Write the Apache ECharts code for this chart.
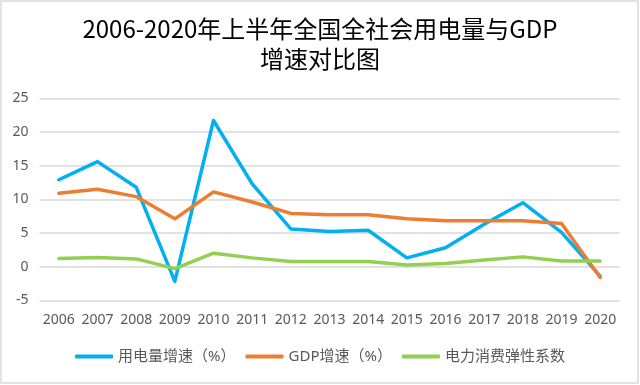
<!DOCTYPE html>
<html>
<head>
<meta charset="utf-8">
<script src="https://cdn.jsdelivr.net/npm/echarts@6/dist/echarts.min.js"></script>
<style>
html,body{margin:0;padding:0;background:#fff;}
#c{width:640px;height:385px;}
</style>
</head>
<body>
<div id="c"></div>
<script>
var years = ['2006','2007','2008','2009','2010','2011','2012','2013','2014','2015','2016','2017','2018','2019','2020'];
var elecGrowth = [12.9, 15.6, 11.8, -2.2, 21.7, 12.3, 5.6, 5.2, 5.4, 1.3, 2.8, 6.3, 9.5, 5.1, -1.4];
var gdpGrowth = [10.9, 11.5, 10.4, 7.1, 11.1, 9.6, 7.9, 7.7, 7.7, 7.1, 6.8, 6.8, 6.8, 6.4, -1.6];
var elasticity = [1.2, 1.35, 1.15, -0.3, 2.0, 1.3, 0.75, 0.75, 0.75, 0.25, 0.45, 1.0, 1.45, 0.85, 0.85];
var seriesNames = ['用电量增速（%）', 'GDP增速（%）', '电力消费弹性系数'];
var titleLines = ['2006-2020年上半年全国全社会用电量与GDP', '增速对比图'];

var font = '"Noto Sans", "Noto Sans CJK SC", sans-serif';
var chart = echarts.init(document.getElementById('c'));
function mk(name, data, color) {
  return {
    name: name, type: 'line', data: data, symbol: 'none',
    lineStyle: { color: color, width: 3.5, cap: 'round', join: 'round' },
    itemStyle: { color: color }
  };
}
var titleStyle = { fontFamily: '"Noto Sans CJK SC", sans-serif', fontSize: 24, fill: '#000', textAlign: 'center', textVerticalAlign: 'middle' };
chart.setOption({
  animation: false,
  backgroundColor: '#fff',
  graphic: [{
    type: 'rect', shape: { x: 1, y: 1, width: 637, height: 382 },
    style: { fill: 'none', stroke: '#d9d9d9', lineWidth: 1.5 }, silent: true
  }, {
    type: 'text', x: 320, y: 29, silent: true,
    style: Object.assign({ text: titleLines[0] }, titleStyle)
  }, {
    type: 'text', x: 320, y: 59, silent: true,
    style: Object.assign({ text: titleLines[1] }, titleStyle)
  }],
  legend: {
    data: seriesNames, left: 'center', top: 349, padding: 0,
    icon: 'roundRect', itemWidth: 38, itemHeight: 4, itemGap: 10,
    textStyle: { fontFamily: font, fontSize: 15, color: '#595959' }
  },
  grid: { left: 39.5, right: 20.5, top: 98.3, bottom: 84.7, containLabel: false },
  xAxis: {
    type: 'category', data: years, boundaryGap: true,
    axisLine: { show: false }, axisTick: { show: false },
    axisLabel: { fontFamily: font, fontSize: 14, color: '#595959', margin: 13, interval: 0 }
  },
  yAxis: {
    type: 'value', min: -5, max: 25, interval: 5,
    axisLine: { show: false }, axisTick: { show: false },
    axisLabel: { fontFamily: font, fontSize: 14, color: '#595959', margin: 11 },
    splitLine: { lineStyle: { color: '#d9d9d9', width: 1.5 } }
  },
  series: [
    mk(seriesNames[0], elecGrowth, '#00B0F0'),
    mk(seriesNames[1], gdpGrowth, '#ED7D31'),
    mk(seriesNames[2], elasticity, '#92D050')
  ]
});
</script>
</body>
</html>
